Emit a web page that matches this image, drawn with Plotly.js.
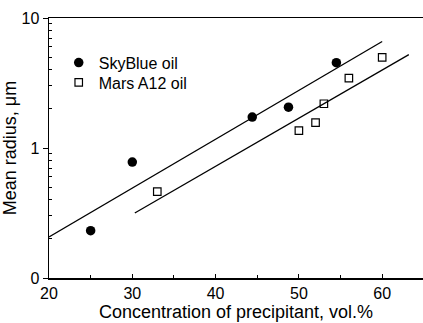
<!DOCTYPE html>
<html>
<head>
<meta charset="utf-8">
<script src="https://cdn.plot.ly/plotly-3.0.1.min.js"></script>
<style>html,body{margin:0;padding:0;background:#fff;}#chart{width:423px;height:323px;}</style>
</head>
<body>
<div id="chart"></div>
<script>
// Data
const skyX = [25, 30, 44.4, 48.75, 54.5];
const skyY = [0.231, 0.78, 1.73, 2.06, 4.53];
const marsX = [33, 50, 52, 53, 56, 60];
const marsY = [0.461, 1.36, 1.57, 2.19, 3.45, 4.98];
// Fitted lines (end points)
const skyFitX = [20, 60];
const skyFitY = [0.207, 6.6];
const marsFitX = [30.3, 63.2];
const marsFitY = [0.316, 5.23];
// Axis ticks
const yTickVals = [0.1, 1, 10];
const yTickText = ["0", "1", "10"];
const yMinorVals = [0.2,0.3,0.4,0.5,0.6,0.7,0.8,0.9,2,3,4,5,6,7,8,9];
const xTickVals = [20, 30, 40, 50, 60];
const xMinorVals = [25, 35, 45, 55];

const FONT = "Liberation Sans, Arial, sans-serif";
const legFont = {family: FONT, size: 16, color: "#000"};

const traces = [
  {x: skyFitX, y: skyFitY, mode: "lines", line: {color: "#000", width: 1.3}, showlegend: false, hoverinfo: "skip"},
  {x: marsFitX, y: marsFitY, mode: "lines", line: {color: "#000", width: 1.3}, showlegend: false, hoverinfo: "skip"},
  {x: skyX, y: skyY, mode: "markers", name: "SkyBlue oil", legend: "legend",
   marker: {symbol: "circle", size: 9.5, color: "#000"}},
  {x: marsX, y: marsY, mode: "markers", name: "Mars A12 oil", legend: "legend2",
   marker: {symbol: "square-open", size: 7.5, color: "#000", line: {width: 1.2, color: "#000"}}}
];

const layout = {
  width: 423, height: 323,
  margin: {l: 49, r: 0, t: 18, b: 45},
  paper_bgcolor: "#fff", plot_bgcolor: "#fff",
  font: {family: FONT, color: "#000", size: 16},
  showlegend: true,
  legend: {x: 0.026, y: 0.828, xanchor: "left", yanchor: "middle", bgcolor: "rgba(0,0,0,0)", font: legFont},
  legend2: {x: 0.026, y: 0.752, xanchor: "left", yanchor: "middle", bgcolor: "rgba(0,0,0,0)", font: legFont},
  xaxis: {
    range: [20, 64.9], showgrid: false, zeroline: false,
    showline: true, linecolor: "#000", linewidth: 1.5, mirror: true,
    ticks: "inside", ticklen: 4, tickwidth: 1, tickcolor: "#000",
    tickvals: xTickVals, ticktext: xTickVals.map(String),
    tickfont: {family: FONT, size: 16, color: "#000"},
    minor: {tickvals: xMinorVals, ticks: "inside", ticklen: 3, tickcolor: "#000", tickwidth: 1, showgrid: false},
    title: {text: "Concentration of precipitant, vol.%", font: {family: FONT, size: 18, color: "#000"}, standoff: 2}
  },
  yaxis: {
    type: "log", range: [-1, 1], showgrid: false, zeroline: false,
    showline: true, linecolor: "#000", linewidth: 1.5,
    ticks: "outside", ticklen: 5, tickwidth: 1, tickcolor: "#000",
    tickvals: yTickVals, ticktext: yTickText,
    tickfont: {family: FONT, size: 16, color: "#000"},
    minor: {tickvals: yMinorVals, ticks: "inside", ticklen: 3, tickcolor: "#000", tickwidth: 1, showgrid: false},
    title: {text: "Mean radius, μm", font: {family: FONT, size: 18, color: "#000"}, standoff: 0}
  }
};

Plotly.newPlot("chart", traces, layout, {displayModeBar: false, staticPlot: true});
</script>
</body>
</html>
